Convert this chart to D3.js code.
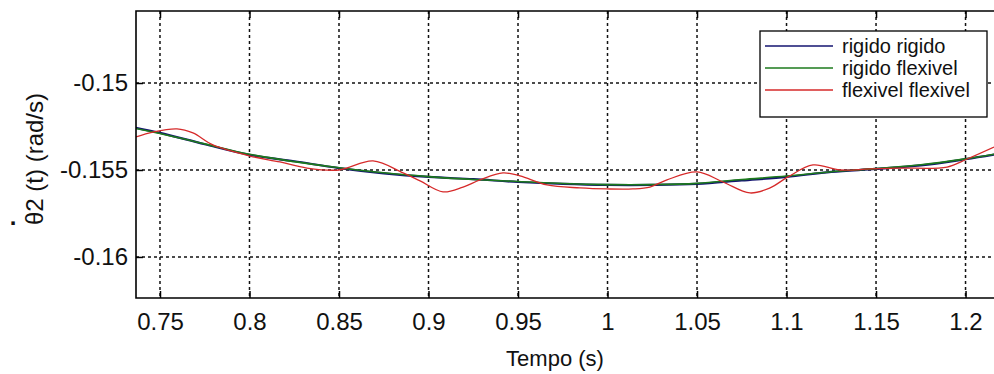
<!DOCTYPE html>
<html>
<head>
<meta charset="utf-8">
<script src="https://cdn.jsdelivr.net/npm/d3@7"></script>
<style>
  body { margin: 0; background: #fff; }
  svg { display: block; font-family: "Liberation Sans", Arial, sans-serif; }
</style>
</head>
<body>
<div id="chart"></div>
<script>
// tick labels
const xTicks = [0.75, 0.8, 0.85, 0.9, 0.95, 1, 1.05, 1.1, 1.15, 1.2];
const yTicks = [-0.15, -0.155, -0.16];

// series: rigido rigido / rigido flexivel (same time base)
const tSmooth = [0.735, 0.75, 0.775, 0.8, 0.825, 0.85, 0.875, 0.9, 0.925, 0.95, 0.975,
                 1.0, 1.025, 1.05, 1.075, 1.1, 1.125, 1.15, 1.175, 1.2, 1.22];
const rigidoRigido = [-0.15255, -0.15287, -0.15352, -0.15413, -0.15450, -0.15489, -0.15519,
                      -0.15540, -0.15553, -0.15569, -0.15580, -0.15586, -0.15586, -0.15580,
                      -0.15560, -0.15540, -0.15511, -0.15494, -0.15474, -0.15438, -0.15405];
const rigidoFlexivel = [-0.15258, -0.15290, -0.15350, -0.15410, -0.15452, -0.15487, -0.15516,
                        -0.15538, -0.15555, -0.15566, -0.15578, -0.15584, -0.15584, -0.15577,
                        -0.15555, -0.15535, -0.15510, -0.15492, -0.15470, -0.15436, -0.15402];

// flexivel flexivel (oscillating, own time base)
const tFlex = [0.7366, 0.7461, 0.7595, 0.7684, 0.7796, 0.8003, 0.8170, 0.8321, 0.85, 0.8690,
               0.8858, 0.8953, 0.9081, 0.9193, 0.9288, 0.9416, 0.9511, 0.9662, 0.9846, 0.9997,
               1.0142, 1.0237, 1.0332, 1.05, 1.0645, 1.0796, 1.0908, 1.1008, 1.1148, 1.1299,
               1.1466, 1.1634, 1.1897, 1.2008, 1.2159];
const flexivelFlexivel = [-0.15310, -0.15282, -0.15264, -0.15287, -0.15356, -0.15420, -0.15454,
                          -0.15489, -0.15500, -0.15448, -0.15517, -0.15563, -0.15626, -0.15598,
                          -0.15557, -0.15517, -0.15534, -0.15586, -0.15603, -0.15609, -0.15609,
                          -0.15598, -0.15557, -0.15511, -0.15569, -0.15632, -0.15603, -0.15540,
                          -0.15471, -0.15500, -0.15494, -0.15489, -0.15483, -0.15437, -0.15368];

const legendNames = ["rigido rigido", "rigido flexivel", "flexivel flexivel"];
const colors = ["#141470", "#1d7a1d", "#d62a2a"];

const W = 994, H = 374;
const mLeft = 136, mTop = 11, mBottom = 298, mRight = 994;

const svg = d3.select("#chart").append("svg").attr("width", W).attr("height", H);

const x = d3.scaleLinear().domain([0.7366, 1.2159]).range([mLeft, mRight]);
const y = d3.scaleLinear().domain([-0.16236, -0.14586]).range([mBottom, mTop]);

svg.append("defs").append("clipPath").attr("id", "clip")
  .append("rect").attr("x", mLeft).attr("y", mTop).attr("width", mRight - mLeft).attr("height", mBottom - mTop);

// grid
const grid = svg.append("g").attr("stroke", "#111").attr("stroke-width", 1.5).attr("stroke-dasharray", "3,3");
grid.selectAll(".gx").data(xTicks).join("line")
  .attr("x1", d => x(d)).attr("x2", d => x(d)).attr("y1", mTop).attr("y2", mBottom);
grid.selectAll(".gy").data(yTicks).join("line")
  .attr("x1", mLeft).attr("x2", mRight).attr("y1", d => y(d)).attr("y2", d => y(d));

// lines
const plot = svg.append("g").attr("clip-path", "url(#clip)");
const line = d3.line().curve(d3.curveCatmullRom.alpha(0.5)).x(d => x(d[0])).y(d => y(d[1]));
const series = [
  { t: tSmooth, v: rigidoRigido, w: 2.2 },
  { t: tSmooth, v: rigidoFlexivel, w: 1.6 },
  { t: tFlex, v: flexivelFlexivel, w: 1.3 }
];
series.forEach((s, i) => {
  plot.append("path")
    .datum(s.t.map((t, j) => [t, s.v[j]]))
    .attr("fill", "none").attr("stroke", colors[i]).attr("stroke-width", s.w)
    .attr("d", line);
});

// axes (inward ticks)
const fmt = d => String(d);
const xAxis = svg.append("g").attr("transform", `translate(0,${mBottom})`)
  .call(d3.axisBottom(x).tickValues(xTicks).tickSize(-7).tickPadding(15).tickFormat(fmt));
const xTop = svg.append("g").attr("transform", `translate(0,${mTop})`)
  .call(d3.axisTop(x).tickValues(xTicks).tickSize(-7).tickFormat(""));
const yAxis = svg.append("g").attr("transform", `translate(${mLeft},0)`)
  .call(d3.axisLeft(y).tickValues(yTicks).tickSize(-7).tickPadding(8).tickFormat(fmt));

[xAxis, xTop, yAxis].forEach(g => {
  g.select(".domain").remove();
  g.selectAll(".tick line").attr("stroke", "#000").attr("stroke-width", 1.5);
  g.selectAll("text").attr("font-size", 24).attr("fill", "#111")
    .attr("font-family", "'Liberation Sans', Arial, sans-serif");
});

// box (right side is cut off by the picture)
svg.append("path")
  .attr("d", `M${mRight},${mTop}H${mLeft}V${mBottom}H${mRight}`)
  .attr("fill", "none").attr("stroke", "#000").attr("stroke-width", 1.6);

// axis labels
svg.append("text").attr("x", 555).attr("y", 366).attr("text-anchor", "middle")
  .attr("font-size", 22).attr("fill", "#111").text("Tempo (s)");
svg.append("text").attr("transform", "translate(43,159) rotate(-90)").attr("text-anchor", "middle")
  .attr("font-size", 24).attr("fill", "#111").text("θ2 (t) (rad/s)");
svg.append("text").attr("x", 13).attr("y", 225).attr("text-anchor", "middle")
  .attr("font-size", 24).attr("font-weight", "bold").attr("fill", "#111").text(".");

// legend
const lg = svg.append("g");
lg.append("rect").attr("x", 760).attr("y", 31).attr("width", 227).attr("height", 86)
  .attr("fill", "#fff").attr("stroke", "#000").attr("stroke-width", 1.3);
legendNames.forEach((name, i) => {
  const ly = 46 + i * 22;
  lg.append("line").attr("x1", 765).attr("x2", 833).attr("y1", ly).attr("y2", ly)
    .attr("stroke", colors[i]).attr("stroke-width", 1.6);
  lg.append("text").attr("x", 842).attr("y", ly).attr("dy", "0.35em")
    .attr("font-size", 20).attr("fill", "#111").text(name);
});
</script>
</body>
</html>
